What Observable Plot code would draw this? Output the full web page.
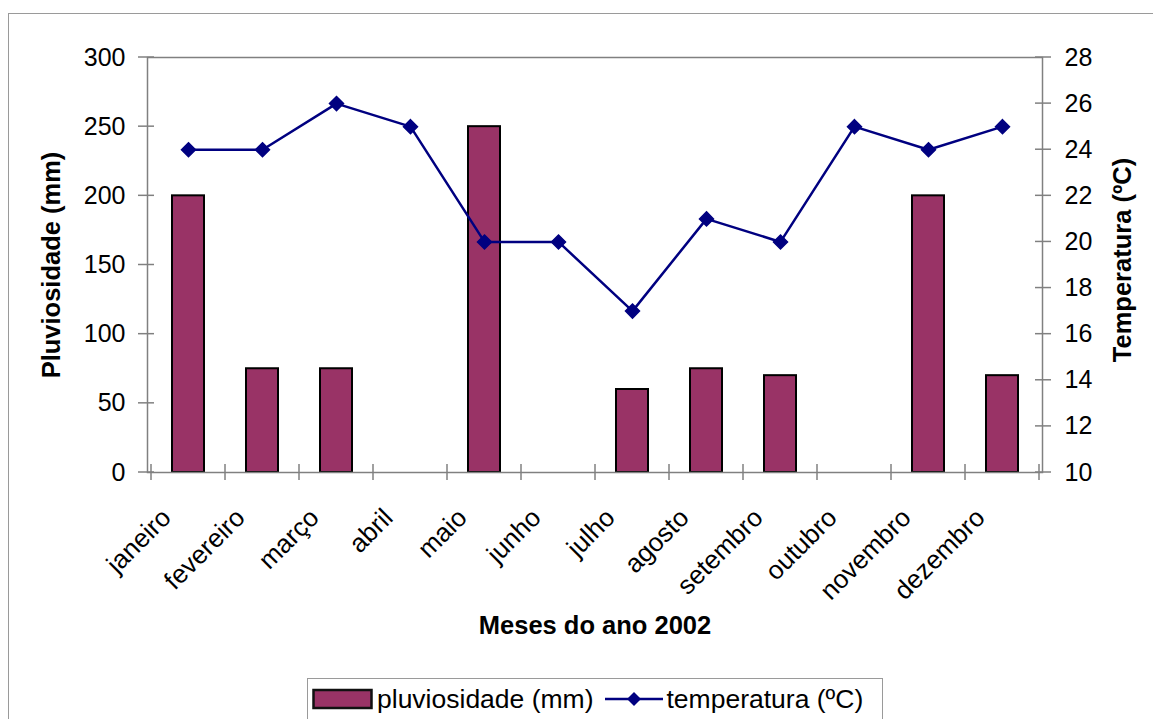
<!DOCTYPE html>
<html>
<head>
<meta charset="utf-8">
<script src="https://cdn.jsdelivr.net/npm/d3@7"></script>
<script src="https://cdn.jsdelivr.net/npm/@observablehq/plot@0.6"></script>
<style>
  html, body { margin: 0; padding: 0; background: #fff; }
  #page {
    position: relative; width: 1153px; height: 719px; overflow: hidden;
    font-family: "Liberation Sans", Arial, sans-serif; color: #000;
  }
  #border {
    position: absolute; left: 8px; top: 13px; right: -10px; bottom: -10px;
    border-top: 1.5px solid #9a9a9a; border-left: 1.5px solid #9a9a9a;
  }
  #chart { position: absolute; left: 0; top: 0; }
  #legend {
    position: absolute; left: 307px; top: 678px; width: 576px; height: 44px;
    box-sizing: border-box; border: 1.5px solid #9a9a9a; background: #fff;
    display: flex; align-items: center; font-size: 26.5px; white-space: nowrap;
    padding-bottom: 2px;
  }
  #legend svg { display: block; }
</style>
</head>
<body>
<div id="page">
  <div id="border"></div>
  <div id="chart"></div>
  <div id="legend"></div>
</div>
<script>
// Monthly rainfall (mm) and mean temperature (ºC), 2002
const months = ["janeiro", "fevereiro", "março", "abril", "maio", "junho",
                "julho", "agosto", "setembro", "outubro", "novembro", "dezembro"];
const rainfall = [200, 75, 75, null, 250, null, 60, 75, 70, null, 200, 70];
const temperature = [24, 24, 26, 25, 20, 20, 17, 21, 20, 25, 24, 25];

const rainTicks = [0, 50, 100, 150, 200, 250, 300];
const tempTicks = [10, 12, 14, 16, 18, 20, 22, 24, 26, 28];

const rainDomain = [0, 300];
const tempDomain = [10, 28];

const rainLabel = "Pluviosidade (mm)";
const tempLabel = "Temperatura (ºC)";
const xLabel = "Meses do ano 2002";
const rainSeries = "pluviosidade (mm)";
const tempSeries = "temperatura (ºC)";

const barColor = "#993366";
const lineColor = "#000080";
const axisColor = "#808080";

// Temperature shares the rainfall scale through a linear mapping
const toRain = d3.scaleLinear().domain(tempDomain).range(rainDomain);

const data = months.map((month, i) => ({
  month, rain: rainfall[i], temp: temperature[i]
}));

// Excel-style cross tick marks on both value axes and between categories
function crossTicks(index, scales, values, dimensions) {
  const {x, y} = scales;
  const {width, height, marginLeft, marginRight, marginBottom} = dimensions;
  const left = marginLeft, right = width - marginRight, bottom = height - marginBottom;
  const g = d3.create("svg:g").attr("stroke", axisColor).attr("stroke-width", 1.5);
  for (const v of rainTicks) {
    g.append("line").attr("x1", left - 9).attr("x2", left + 7)
      .attr("y1", y(v)).attr("y2", y(v));
  }
  for (const t of tempTicks) {
    const py = y(toRain(t));
    g.append("line").attr("x1", right - 7).attr("x2", right + 9)
      .attr("y1", py).attr("y2", py);
  }
  const step = x(months[1]) - x(months[0]);
  const gap = (step - x.bandwidth()) / 2;
  const edges = months.map(m => x(m) - gap).concat([x(months[months.length - 1]) + x.bandwidth() + gap]);
  for (const px of edges) {
    g.append("line").attr("x1", px).attr("x2", px)
      .attr("y1", bottom - 8).attr("y2", bottom + 8);
  }
  return g.node();
}

const chart = Plot.plot({
  width: 1153,
  height: 719,
  marginLeft: 147,
  marginRight: 111,
  marginTop: 57,
  marginBottom: 247,
  style: {
    fontFamily: "'Liberation Sans', Arial, sans-serif",
    fontSize: "25px",
    color: "#000",
    background: "transparent",
    overflow: "visible"
  },
  x: {domain: months, paddingInner: 0.57, paddingOuter: 0.285},
  y: {domain: rainDomain},
  marks: [
    Plot.barY(data, {x: "month", y: "rain", fill: barColor, stroke: "#000", strokeWidth: 2}),
    Plot.frame({stroke: axisColor, strokeWidth: 1.5}),
    Plot.axisY(rainTicks, {anchor: "left", tickSize: 0, tickPadding: 22, label: null, fontSize: 25}),
    Plot.axisY(tempTicks.map(toRain), {
      anchor: "right", tickSize: 0, tickPadding: 22, label: null, fontSize: 25,
      tickFormat: v => String(Math.round(toRain.invert(v)))
    }),
    Plot.axisX({tickRotate: -45, tickSize: 0, tickPadding: 28, dx: -22, dy: 13, label: null, fontSize: 26}),
    crossTicks,
    Plot.line(data, {x: "month", y: d => toRain(d.temp), stroke: lineColor, strokeWidth: 2.5}),
    Plot.dot(data, {x: "month", y: d => toRain(d.temp), symbol: "diamond2", r: 6.3,
                    fill: lineColor, stroke: lineColor}),
    Plot.text([rainLabel], {frameAnchor: "left", dx: -96, rotate: -90, textAnchor: "middle",
                            fontWeight: "bold", fontSize: 25.5}),
    Plot.text([tempLabel], {frameAnchor: "right", dx: 80, dy: -5, rotate: -90, textAnchor: "middle",
                            fontWeight: "bold", fontSize: 25.5}),
    Plot.text([xLabel], {frameAnchor: "bottom", dy: 161, fontWeight: "bold", fontSize: 25.5})
  ]
});
document.getElementById("chart").append(chart);

// Legend: bar swatch and line-with-marker swatch
const legend = d3.select("#legend");
const barSwatch = legend.append("svg").attr("width", 61).attr("height", 22)
  .style("margin-left", "4px");
barSwatch.append("rect").attr("x", 1.5).attr("y", 2).attr("width", 58).attr("height", 18)
  .attr("fill", barColor).attr("stroke", "#111").attr("stroke-width", 2.5);
legend.append("span").text(rainSeries).style("margin-left", "4px");
const lineSwatch = legend.append("svg").attr("width", 58).attr("height", 24)
  .style("margin-left", "11px");
lineSwatch.append("line").attr("x1", 0).attr("x2", 58).attr("y1", 12).attr("y2", 12)
  .attr("stroke", lineColor).attr("stroke-width", 2.5);
lineSwatch.append("path").attr("d", "M29,5L36,12L29,19L22,12Z").attr("fill", lineColor);
legend.append("span").text(tempSeries).style("margin-left", "4px");
</script>
</body>
</html>
